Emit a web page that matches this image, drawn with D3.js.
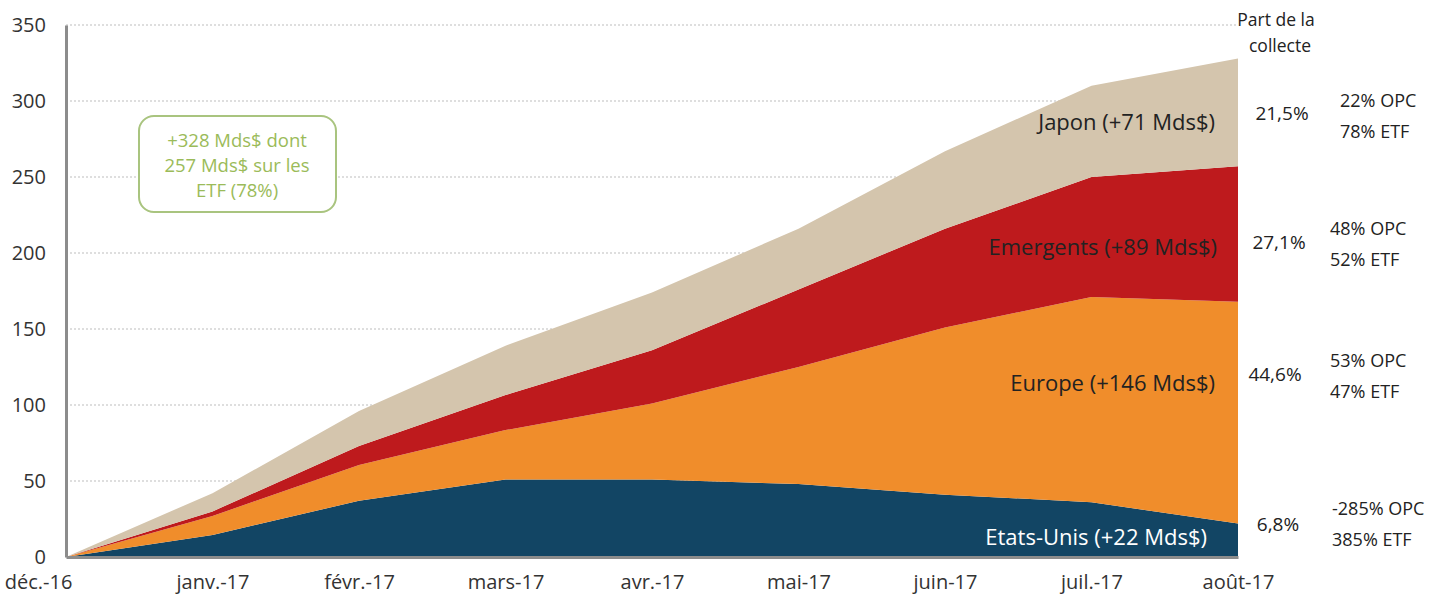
<!DOCTYPE html>
<html><head><meta charset="utf-8">
<script src="https://cdn.jsdelivr.net/npm/d3@7"></script>
<style>body{margin:0;background:#fff}svg{display:block}text{font-family:"Open Sans","Noto Sans",sans-serif}</style>
</head><body><svg id="c" width="1430" height="594"></svg>
<script>
const categories = ["déc.-16","janv.-17","févr.-17","mars-17","avr.-17","mai-17","juin-17","juil.-17","août-17"];
const seriesNames = ["Etats-Unis","Europe","Emergents","Japon"];
const etatsUnis = [0, 14.5, 37, 51, 51, 48, 41, 36, 22];
const europe    = [0, 12.5, 23.5, 32.5, 50, 77, 110, 135, 146];
const emergents = [0, 3, 12.5, 23, 35, 51, 65, 79, 89];
const japon     = [0, 12, 23, 32.5, 38, 40, 51, 60, 71];
const yTicks = [0,50,100,150,200,250,300,350];
const seriesLabels = ["Etats-Unis (+22 Mds$)","Europe (+146 Mds$)","Emergents (+89 Mds$)","Japon (+71 Mds$)"];
const parts = ["6,8%","44,6%","27,1%","21,5%"];
const splits = [["-285% OPC","385% ETF"],["53% OPC","47% ETF"],["48% OPC","52% ETF"],["22% OPC","78% ETF"]];
const colors = ["#124564","#f08d2b","#be1a1d","#d4c5ad"];

const svg = d3.select("#c");
const x = d3.scalePoint().domain(categories).range([66,1238]);
const y = d3.scaleLinear().domain([0,350]).range([557,25]);

// grid
svg.append("g").selectAll("line").data(yTicks.filter(d=>d>0)).join("line")
  .attr("x1",66).attr("x2",1238).attr("y1",d=>y(d)).attr("y2",d=>y(d))
  .attr("stroke","#bdbdbd").attr("stroke-width",1).attr("stroke-dasharray","2,2");

const table = categories.map((c,i)=>({cat:c,"Etats-Unis":etatsUnis[i],"Europe":europe[i],"Emergents":emergents[i],"Japon":japon[i]}));
const stacked = d3.stack().keys(seriesNames)(table);
const area = d3.area().x(d=>x(d.data.cat)).y0(d=>y(d[0])).y1(d=>y(d[1]));
svg.append("g").selectAll("path").data(stacked).join("path")
  .attr("d",area).attr("fill",(d,i)=>colors[i]);

// axes
const yAxis = svg.append("g").attr("transform","translate(66,0)").call(d3.axisLeft(y).tickValues(yTicks).tickSize(0).tickPadding(20));
yAxis.select(".domain").attr("stroke","#8c8c8c").attr("stroke-width",3);
yAxis.selectAll("text").attr("font-size",20).attr("fill","#333").attr("font-family","Open Sans");
const xAxis = svg.append("g").attr("transform","translate(0,557)").call(d3.axisBottom(x).tickSize(0).tickPadding(18));
xAxis.select(".domain").attr("stroke","#8c8c8c").attr("stroke-width",3);
xAxis.selectAll("text").attr("font-size",20).attr("fill","#333").attr("font-family","Open Sans");
xAxis.selectAll(".tick").filter(d=>d===categories[0]).select("text").attr("dx",-28);

// series labels at last point
const labelRight = [1207,1215,1217,1215];
const labelY = [537,383,247,122];
const labelFill = ["#ffffff","#222","#222","#222"];
svg.append("g").selectAll("text").data(seriesLabels).join("text")
  .attr("x",(d,i)=>labelRight[i]).attr("y",(d,i)=>labelY[i]+8)
  .attr("text-anchor","end").attr("font-size",22).attr("fill",(d,i)=>labelFill[i]).text(d=>d);

// right column
svg.append("text").attr("x",1276).attr("y",26).attr("text-anchor","middle").attr("font-size",17.5).attr("fill","#222").text("Part de la");
svg.append("text").attr("x",1280).attr("y",52).attr("text-anchor","middle").attr("font-size",17.5).attr("fill","#222").text("collecte");
const partX=[1278,1275,1279,1282], partY=[524,374,242,113];
svg.append("g").selectAll("text").data(parts).join("text")
  .attr("x",(d,i)=>partX[i]).attr("y",(d,i)=>partY[i]+7).attr("text-anchor","middle")
  .attr("font-size",19).attr("fill","#222").text(d=>d);
const splitX=[1332,1330,1330,1340], splitY=[508,360,228,100];
splits.forEach((s,i)=>{
  s.forEach((t,j)=>svg.append("text").attr("x",splitX[i]).attr("y",splitY[i]+7+j*31)
    .attr("font-size",18).attr("fill","#222").text(t));
});

// green box
svg.append("rect").attr("x",139).attr("y",116).attr("width",197).attr("height",96).attr("rx",15)
  .attr("fill","#fff").attr("stroke","#a9c47f").attr("stroke-width",2);
["+328 Mds$ dont","257 Mds$ sur les","ETF (78%)"].forEach((t,j)=>
  svg.append("text").attr("x",237).attr("y",147+j*25).attr("text-anchor","middle")
    .attr("font-size",18.5).attr("fill","#9bbb59").text(t));
</script></body></html>
